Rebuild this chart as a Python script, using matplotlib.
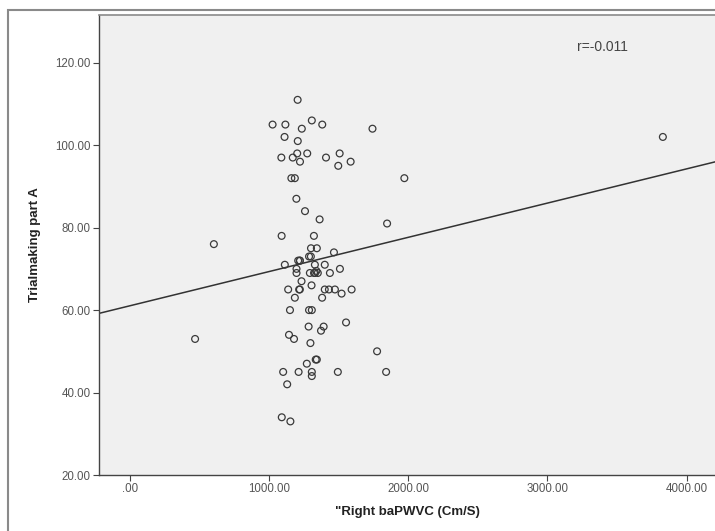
import matplotlib.pyplot as plt
from matplotlib.patches import Rectangle

# Right baPWVC (Cm/S) vs Trialmaking part A
pwv = [
    1205, 1025, 1117, 1307, 1382, 1743, 1235, 1111, 1206, 3830,
    1088, 1170, 1202, 1274, 1222, 1409, 1507, 1497, 1586, 1160,
    1185, 1972, 1196, 1258, 1363, 1848, 1090, 603, 1322, 1301,
    1343, 1466, 1300, 1287, 1221, 1221, 1113, 1329, 1400, 1509,
    1197, 1197, 1330, 1340, 1350, 1293, 1437, 1233, 1305, 1137,
    1221, 1216, 1400, 1430, 1473, 1593, 1521, 1185, 1381, 1150,
    1287, 1307, 1553, 1284, 1392, 1373, 1143, 1179, 468, 1297,
    1776, 1343, 1335, 1271, 1101, 1212, 1307, 1307, 1494, 1841,
    1130, 1091, 1153, 1209, 1323,
]
trail_a = [
    111, 105, 105, 106, 105, 104, 104, 102, 101, 102,
    97, 97, 98, 98, 96, 97, 98, 95, 96, 92,
    92, 92, 87, 84, 82, 81, 78, 76, 78, 75,
    75, 74, 73, 73, 72, 72, 71, 71, 71, 70,
    70, 69, 69, 69.5, 69, 69, 69, 67, 66, 65,
    65, 65, 65, 65, 65, 65, 64, 63, 63, 60,
    60, 60, 57, 56, 56, 55, 54, 53, 53, 52,
    50, 48, 48, 47, 45, 45, 45, 44, 45, 45,
    42, 34, 33, 72, 69,
]

# fit line as drawn in the reference
fit_intercept = 61.05
fit_slope = 0.0083
r_text = "r=-0.011"

x_ticks = [0, 1000, 2000, 3000, 4000]
x_ticklabels = [".00", "1000.00", "2000.00", "3000.00", "4000.00"]
y_ticks = [20, 40, 60, 80, 100, 120]
y_ticklabels = ["20.00", "40.00", "60.00", "80.00", "100.00", "120.00"]

plt.rcParams["font.family"] = ["Liberation Sans", "DejaVu Sans"]

fig = plt.figure(figsize=(7.15, 5.31), dpi=100)
fig.patch.set_facecolor("white")

# outer frame of the exported chart
fig.add_artist(Rectangle((8 / 715, -0.05), 1.2, 1 - 10 / 531 + 0.05,
                         transform=fig.transFigure, fill=False,
                         edgecolor="#8a8a8a", linewidth=1.5))

ax = fig.add_axes([98.8 / 715, 1 - 475 / 531, 1 - 98.8 / 715 + 0.002, (475 - 14.5) / 531])
ax.set_facecolor("#f0f0f0")

ax.scatter(pwv, trail_a, s=24, facecolors="none", edgecolors="#3a3a3a", linewidths=0.9, zorder=3)

xmin, xmax = -224, 4215
ax.plot([xmin, xmax], [fit_intercept + fit_slope * xmin, fit_intercept + fit_slope * xmax],
        color="#333333", linewidth=1.1, zorder=2)

ax.set_xlim(xmin, xmax)
ax.set_ylim(20, 131.7)

ax.set_xticks(x_ticks)
ax.set_xticklabels(x_ticklabels)
ax.set_yticks(y_ticks)
ax.set_yticklabels(y_ticklabels)
ax.tick_params(axis="both", direction="out", length=4.5, width=0.8, color="#444444",
               labelsize=8.3, labelcolor="#555555", pad=1.5)

for side in ["left", "bottom"]:
    ax.spines[side].set_color("#444444")
    ax.spines[side].set_linewidth(1.0)
ax.spines["top"].set_color("#8a8a8a")
ax.spines["top"].set_linewidth(1.2)
ax.spines["right"].set_visible(False)

ax.set_xlabel('"Right baPWVC (Cm/S)', fontsize=9.5, fontweight="bold", color="#222222", labelpad=8)
ax.set_ylabel("Trialmaking part A", fontsize=9.5, fontweight="bold", color="#222222", labelpad=10)

ax.text(3211, 123.8, r_text, fontsize=10, color="#444444", va="center", ha="left")

fig.savefig("out.png", dpi=100)
